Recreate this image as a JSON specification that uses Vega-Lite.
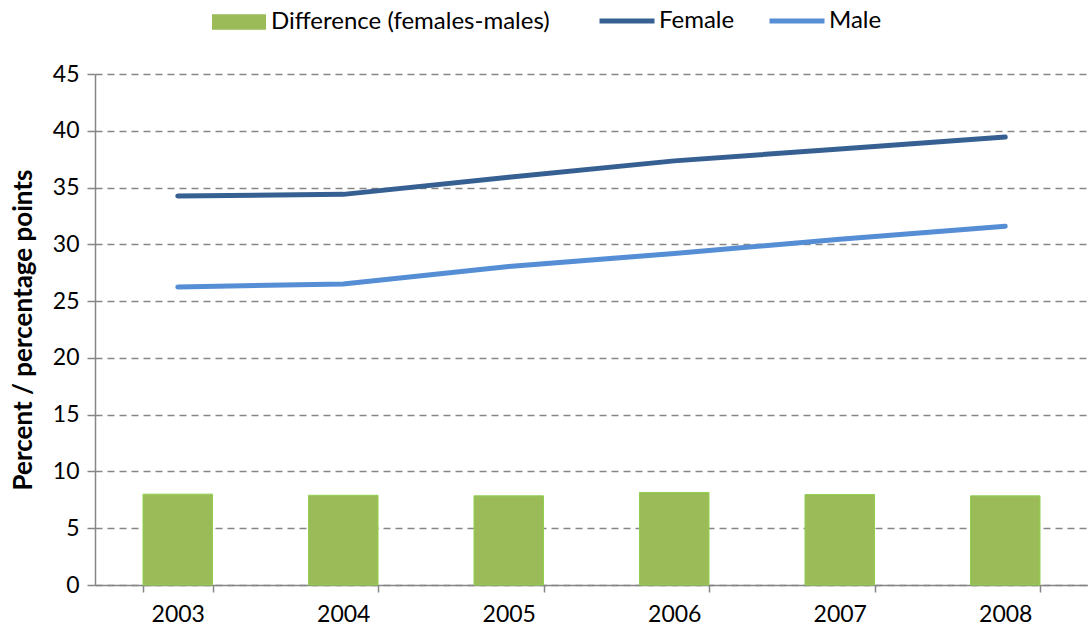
{
  "$schema": "https://vega.github.io/schema/vega-lite/v6.json",
  "autosize": "none",
  "width": 993,
  "height": 511,
  "padding": {"left": 95, "top": 74, "right": 0, "bottom": 50},
  "background": "white",
  "config": {
    "font": "Lato",
    "view": {"stroke": null},
    "axis": {"labelFont": "Lato", "titleFont": "Lato", "labelColor": "#000", "titleColor": "#000"},
    "legend": {"labelFont": "Lato", "labelFontSize": 24, "labelColor": "#000", "padding": 0, "labelLimit": 500}
  },
  "data": {
    "values": [
      {"year": "2003", "series": "Difference (females-males)", "value": 8.0},
      {"year": "2004", "series": "Difference (females-males)", "value": 7.9},
      {"year": "2005", "series": "Difference (females-males)", "value": 7.85},
      {"year": "2006", "series": "Difference (females-males)", "value": 8.15},
      {"year": "2007", "series": "Difference (females-males)", "value": 7.97},
      {"year": "2008", "series": "Difference (females-males)", "value": 7.85},
      {"year": "2003", "series": "Female", "value": 34.25},
      {"year": "2004", "series": "Female", "value": 34.4},
      {"year": "2005", "series": "Female", "value": 35.9},
      {"year": "2006", "series": "Female", "value": 37.35},
      {"year": "2007", "series": "Female", "value": 38.4},
      {"year": "2008", "series": "Female", "value": 39.45},
      {"year": "2003", "series": "Male", "value": 26.25},
      {"year": "2004", "series": "Male", "value": 26.5},
      {"year": "2005", "series": "Male", "value": 28.05},
      {"year": "2006", "series": "Male", "value": 29.2},
      {"year": "2007", "series": "Male", "value": 30.45},
      {"year": "2008", "series": "Male", "value": 31.6}
    ]
  },
  "encoding": {
    "x": {
      "field": "year", "type": "nominal",
      "scale": {"paddingInner": 0.58, "paddingOuter": 0.29},
      "axis": {
        "title": null, "labelAngle": 0, "labelFontSize": 23, "labelPadding": 11,
        "tickBand": "extent", "tickSize": 7, "tickColor": "#868686", "tickWidth": 1.5,
        "domainColor": "#868686", "domainWidth": 1.5, "grid": false
      }
    },
    "y": {
      "field": "value", "type": "quantitative",
      "scale": {"domain": [0, 45], "nice": false},
      "axis": {
        "title": "Percent / percentage points", "titleFontSize": 26, "titleFontWeight": "bold",
        "titlePadding": 16,
        "values": [0, 5, 10, 15, 20, 25, 30, 35, 40, 45],
        "labelFontSize": 23, "labelPadding": 8,
        "tickSize": 8, "tickColor": "#868686", "tickWidth": 1.5,
        "domainColor": "#868686", "domainWidth": 1.5,
        "grid": true, "gridColor": "#868686", "gridWidth": 1.3, "gridDash": [7, 5]
      }
    }
  },
  "layer": [
    {
      "transform": [{"filter": "datum.series === 'Difference (females-males)'"}],
      "mark": {"type": "bar", "stroke": "#92D050", "strokeWidth": 1},
      "encoding": {
        "fill": {
          "field": "series", "type": "nominal",
          "scale": {"domain": ["Difference (females-males)"], "range": ["#9BBB59"]},
          "legend": {
            "title": null, "orient": "none", "legendX": 117, "legendY": -79,
            "symbolType": "M-1,-0.29H1V0.29H-1Z", "symbolSize": 2916,
            "symbolStrokeWidth": 0, "labelOffset": 5
          }
        }
      }
    },
    {
      "transform": [{"filter": "datum.series !== 'Difference (females-males)'"}],
      "mark": {"type": "line", "strokeWidth": 5, "strokeCap": "round"},
      "encoding": {
        "stroke": {
          "field": "series", "type": "nominal",
          "scale": {"domain": ["Female", "Male"], "range": ["#376092", "#558ED5"]},
          "legend": {
            "title": null, "orient": "none", "legendX": 502, "legendY": -83,
            "direction": "horizontal", "columnPadding": 24,
            "symbolType": "M-1,0H1", "symbolSize": 3025,
            "symbolStrokeWidth": 5, "labelOffset": 2
          }
        }
      }
    }
  ]
}
